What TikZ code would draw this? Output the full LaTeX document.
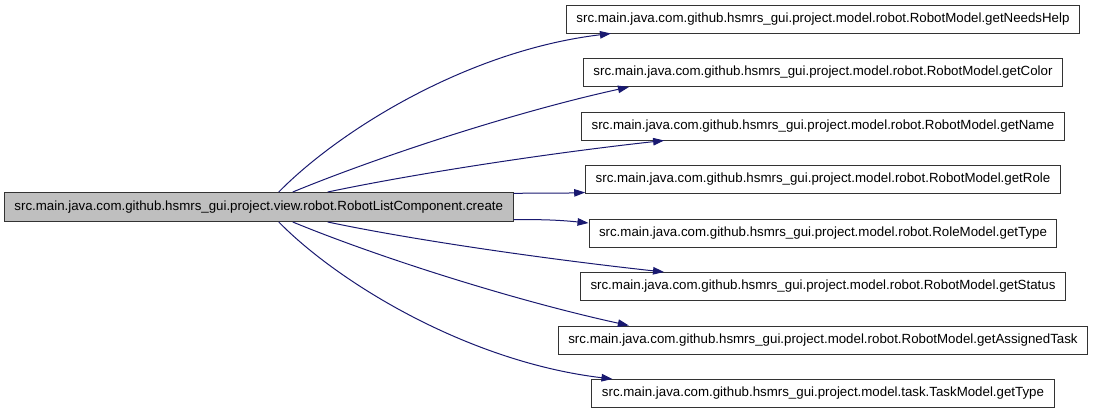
\documentclass[tikz,border=0pt]{standalone}
\usepackage{fontspec}
\setmainfont{Liberation Sans}
\usetikzlibrary{arrows.meta}
\definecolor{edgeblue}{HTML}{191970}
\definecolor{srcgray}{HTML}{BFBFBF}
\begin{document}
\begin{tikzpicture}[x=1pt,y=-1pt,
  fn/.style={rectangle,draw=black!80,line width=1pt,fill=white,inner xsep=10pt,inner ysep=0pt,
    minimum height=28pt,font=\fontsize{13.3}{16}\selectfont,anchor=center},
  src/.style={fn,fill=srcgray,minimum height=29pt},
  call/.style={draw=edgeblue,line width=1pt,-{Triangle[length=11pt,width=7.5pt]}}]
\useasboundingbox (0,0) rectangle (1093,413);
\node[src] (L) at (258.75,207) {src.main.java.com.github.hsmrs\_gui.project.view.robot.RobotListComponent.create};
\node[fn] (R1) at (823,19) {src.main.java.com.github.hsmrs\_gui.project.model.robot.RobotModel.getNeedsHelp};
\node[fn] (R2) at (823,72.5) {src.main.java.com.github.hsmrs\_gui.project.model.robot.RobotModel.getColor};
\node[fn] (R3) at (823,126) {src.main.java.com.github.hsmrs\_gui.project.model.robot.RobotModel.getName};
\node[fn] (R4) at (823,179.5) {src.main.java.com.github.hsmrs\_gui.project.model.robot.RobotModel.getRole};
\node[fn] (R5) at (823,233) {src.main.java.com.github.hsmrs\_gui.project.model.robot.RoleModel.getType};
\node[fn] (R6) at (823,286.5) {src.main.java.com.github.hsmrs\_gui.project.model.robot.RobotModel.getStatus};
\node[fn] (R7) at (823,340) {src.main.java.com.github.hsmrs\_gui.project.model.robot.RobotModel.getAssignedTask};
\node[fn] (R8) at (823,393.5) {src.main.java.com.github.hsmrs\_gui.project.model.task.TaskModel.getType};
% upper edges
\draw[call] ([xshift=20pt]L.north) .. controls +(61,-62) and +(-143,17) .. ([xshift=45pt]R1.south west);
\draw[call] ([xshift=34pt]L.north) .. controls +(90,-37) and +(-110,24) .. ([xshift=46pt]R2.south west);
\draw[call] ([xshift=69pt]L.north) .. controls +(90,-19) and +(-110,12) .. ([xshift=83pt]R3.south west);
\draw[call] ([yshift=-1.5pt]L.north east) .. controls +(30,-1) and +(-30,1) .. ([yshift=1.5pt]R4.south west);
% lower edges
\draw[call] ([yshift=2.5pt]L.south east) .. controls +(30,0) and +(-30,-3) .. ([yshift=-4.5pt]R5.north west);
\draw[call] ([xshift=69pt]L.south) .. controls +(90,19) and +(-110,-12) .. ([xshift=84pt]R6.north west);
\draw[call] ([xshift=34pt]L.south) .. controls +(90,37) and +(-110,-24) .. ([xshift=71pt]R7.north west);
\draw[call] ([xshift=20pt]L.south) .. controls +(61,62) and +(-143,-17) .. ([xshift=21pt]R8.north west);
\end{tikzpicture}
\end{document}
